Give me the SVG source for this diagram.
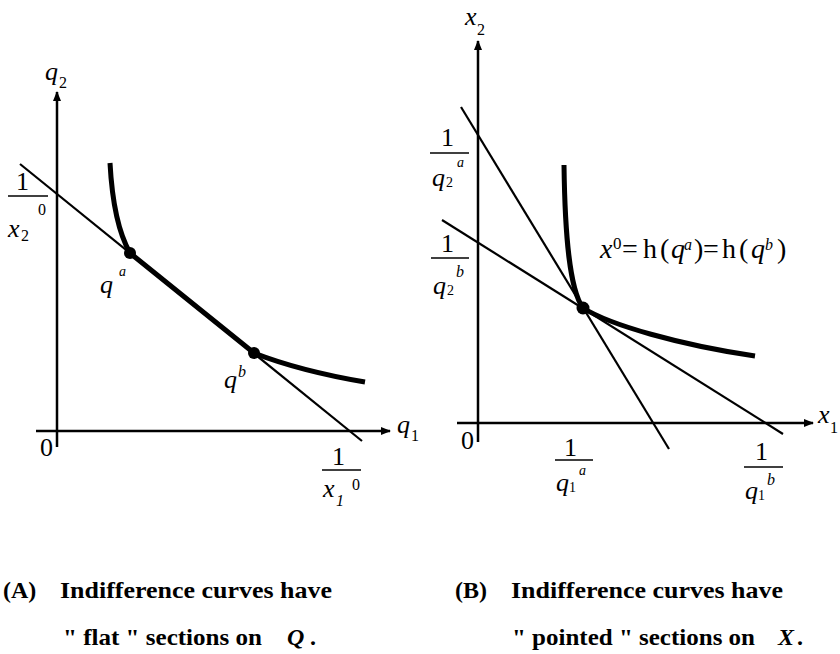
<svg xmlns="http://www.w3.org/2000/svg" width="840" height="654" viewBox="0 0 840 654">
<style>
.ax{stroke:#000;stroke-width:2.5;fill:none}
.thin{stroke:#000;stroke-width:2.2;fill:none}
.thick{stroke:#000;stroke-width:5;fill:none}
.bar{stroke:#000;stroke-width:1.6}
.m{font-family:"Liberation Serif",serif;font-size:26px;fill:#000}
.i{font-style:italic}
.s{font-size:16px}
.xs{font-size:14px}
.cap{font-family:"Liberation Serif",serif;font-weight:bold;font-size:24px;fill:#000}
</style>
<defs>
<marker id="arr" viewBox="0 0 10 8" refX="9" refY="4" markerWidth="10" markerHeight="8" markerUnits="userSpaceOnUse" orient="auto">
<path d="M0,0 L10,4 L0,8 Z" fill="#000"/>
</marker>
</defs>
<rect width="840" height="654" fill="#fff"/>

<g id="panelA">
<g id="axesA">
<line class="ax" x1="57" y1="447" x2="57" y2="92" marker-end="url(#arr)"/>
<line class="ax" x1="36" y1="431" x2="390" y2="431" marker-end="url(#arr)"/>
<text class="m i" x="45" y="80">q</text><text class="m s" x="59" y="88">2</text>
<text class="m i" x="397" y="433">q</text><text class="m s" x="411" y="441">1</text>
<text class="m" x="40" y="456">0</text>
</g>
<g id="budgetA">
<line class="thin" x1="20" y1="164" x2="362" y2="441"/>
</g>
<g id="curveA">
<path class="thick" d="M110,163 C112,200 118,232 130,253 L254,353 C290,367 330,376 365,382"/>
<circle cx="130" cy="253" r="6"/>
<circle cx="254" cy="353" r="6"/>
</g>
<g id="labelsA">
<text class="m i" x="100" y="293">q</text><text class="m i xs" x="119" y="276">a</text>
<text class="m i" x="224" y="388">q</text><text class="m i s" x="238" y="377">b</text>
<text class="m" x="16" y="190">1</text>
<line class="bar" x1="8" y1="196" x2="48" y2="196"/>
<text class="m s" x="38" y="215">0</text>
<text class="m i" x="8" y="237">x</text><text class="m s" x="21" y="241">2</text>
<text class="m" x="332" y="465">1</text>
<line class="bar" x1="322" y1="470" x2="361" y2="470"/>
<text class="m i" x="323" y="497">x</text><text class="m i s" x="336" y="506">1</text>
<text class="m s" x="352" y="490">0</text>
</g>
</g>

<g id="panelB">
<g id="axesB">
<line class="ax" x1="478" y1="442" x2="478" y2="41" marker-end="url(#arr)"/>
<line class="ax" x1="457" y1="423" x2="813" y2="423" marker-end="url(#arr)"/>
<text class="m i" x="465" y="25">x</text><text class="m s" x="477" y="35">2</text>
<text class="m i" x="818" y="423">x</text><text class="m s" x="830" y="433">1</text>
<text class="m" x="461" y="449">0</text>
</g>
<g id="budgetB">
<line class="thin" x1="461" y1="107" x2="669" y2="449"/>
<line class="thin" x1="442" y1="220" x2="783" y2="434"/>
</g>
<g id="curveB">
<path class="thick" d="M564,165 C565,240 570,290 583,308 C610,325 680,345 755,356"/>
<circle cx="583" cy="308" r="6.5"/>
</g>
<g id="labelsB">
<text class="m" x="441" y="146">1</text>
<line class="bar" x1="430" y1="153" x2="469" y2="153"/>
<text class="m i" x="432" y="186">q</text><text class="m xs" x="446" y="187">2</text>
<text class="m i xs" x="457" y="167">a</text>
<text class="m" x="441" y="252">1</text>
<line class="bar" x1="431" y1="258" x2="469" y2="258"/>
<text class="m i" x="433" y="294">q</text><text class="m xs" x="447" y="295">2</text>
<text class="m i s" x="456" y="277">b</text>
<text class="m" x="564" y="456">1</text>
<line class="bar" x1="555" y1="460" x2="593" y2="460"/>
<text class="m i" x="556" y="491">q</text><text class="m xs" x="569" y="492">1</text>
<text class="m i xs" x="579" y="475">a</text>
<text class="m" x="755" y="460">1</text>
<line class="bar" x1="744" y1="467" x2="783" y2="467"/>
<text class="m i" x="745" y="499">q</text><text class="m xs" x="758" y="500">1</text>
<text class="m i s" x="767" y="485">b</text>
<g id="eqLabel" font-family="Liberation Serif, serif" font-size="28" fill="#000">
<text x="600" y="258" font-style="italic">x</text>
<text x="613" y="249" font-size="17">0</text>
<text x="622" y="258">=</text>
<text x="643" y="258">h</text>
<text x="660" y="258">(</text>
<text x="671" y="258" font-style="italic">q</text>
<text x="684" y="250" font-size="16" font-style="italic">a</text>
<text x="694" y="258">)</text>
<text x="703" y="258">=</text>
<text x="722" y="258">h</text>
<text x="739" y="258">(</text>
<text x="751" y="258" font-style="italic">q</text>
<text x="765" y="250" font-size="16" font-style="italic">b</text>
<text x="777" y="258">)</text>
</g>
</g>
</g>

<g id="captions">
<text class="cap" x="3" y="598">(A)</text>
<text class="cap" x="60" y="598" textLength="272" lengthAdjust="spacingAndGlyphs">Indifference curves have</text>
<text class="cap" x="63" y="645" textLength="199" lengthAdjust="spacingAndGlyphs">" flat " sections on</text>
<text class="cap" x="287" y="645" font-style="italic">Q</text>
<text class="cap" x="310" y="645">.</text>
<text class="cap" x="455" y="598">(B)</text>
<text class="cap" x="511" y="598" textLength="272" lengthAdjust="spacingAndGlyphs">Indifference curves have</text>
<text class="cap" x="512" y="645" textLength="243" lengthAdjust="spacingAndGlyphs">" pointed " sections on</text>
<text class="cap" x="778" y="645" font-style="italic">X</text>
<text class="cap" x="797" y="645">.</text>
</g>
</svg>
